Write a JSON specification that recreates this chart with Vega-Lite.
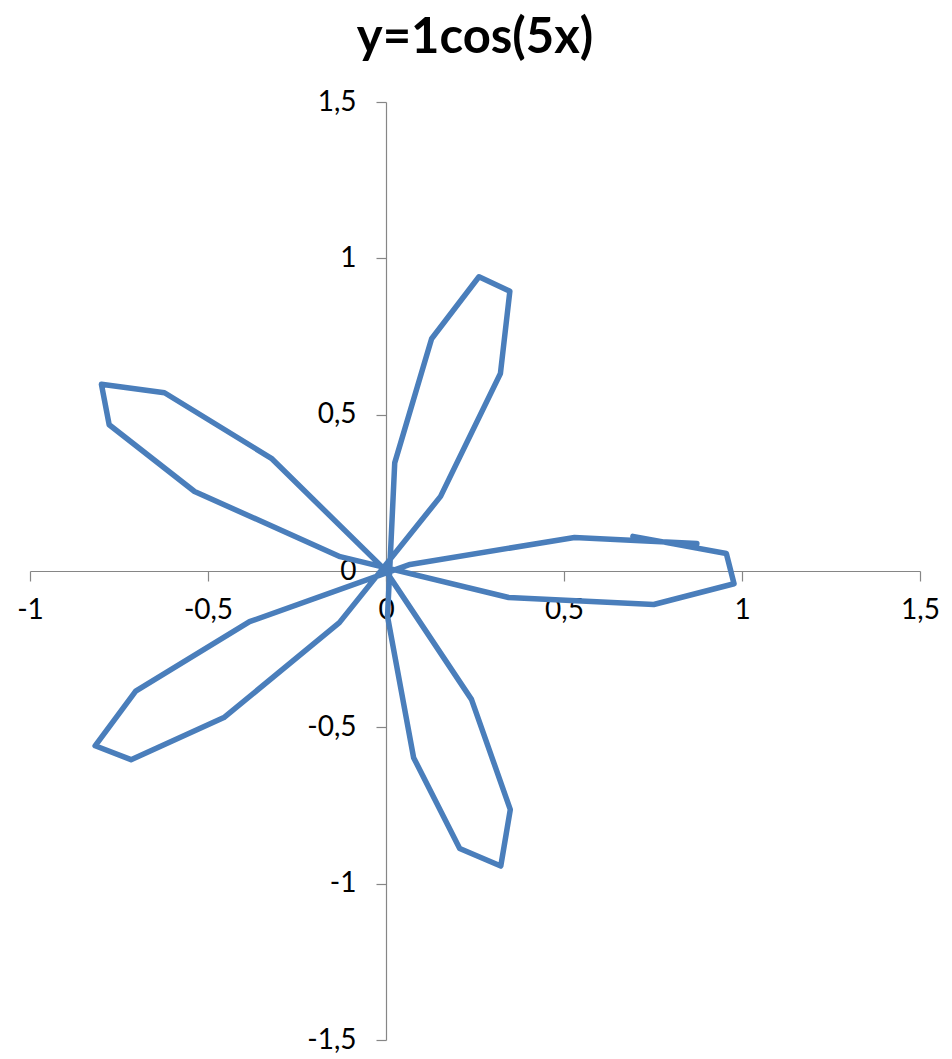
{
  "$schema": "https://vega.github.io/schema/vega-lite/v6.json",
  "width": 890,
  "height": 938,
  "autosize": {"type": "none"},
  "padding": {"left": 30, "top": 102, "right": 32, "bottom": 19},
  "background": "white",
  "title": {
    "text": "y=1cos(5x)",
    "font": "Lato",
    "fontSize": 49,
    "fontWeight": "bold",
    "color": "#000000",
    "anchor": "middle",
    "frame": "group",
    "baseline": "alphabetic",
    "offset": -14
  },
  "config": {
    "view": {"stroke": null},
    "axis": {
      "labelFont": "Lato",
      "labelFontSize": 28,
      "labelColor": "#000000",
      "domainColor": "#868686",
      "tickColor": "#868686",
      "domainWidth": 1.2,
      "tickWidth": 1.2,
      "tickSize": 10,
      "grid": false,
      "title": null,
      "labelFlush": false,
      "labelOverlap": false,
      "labelExpr": "replace(toString(datum.value), '.', ',')"
    }
  },
  "data": {
    "values": [
      {"t": 0.1, "x": 0.8732, "y": 0.0876},
      {"t": 0.2, "x": 0.5295, "y": 0.1073},
      {"t": 0.3, "x": 0.0676, "y": 0.0209},
      {"t": 0.4, "x": -0.3833, "y": -0.1621},
      {"t": 0.5, "x": -0.7031, "y": -0.3841},
      {"t": 0.6, "x": -0.8171, "y": -0.559},
      {"t": 0.7, "x": -0.7162, "y": -0.6033},
      {"t": 0.8, "x": -0.4554, "y": -0.4689},
      {"t": 0.9, "x": -0.131, "y": -0.1651},
      {"t": 1.0, "x": 0.1533, "y": 0.2387},
      {"t": 1.1, "x": 0.3214, "y": 0.6316},
      {"t": 1.2, "x": 0.3479, "y": 0.8949},
      {"t": 1.3, "x": 0.2612, "y": 0.941},
      {"t": 1.4, "x": 0.1281, "y": 0.7429},
      {"t": 1.5, "x": 0.0245, "y": 0.3458},
      {"t": 1.6, "x": 0.0043, "y": -0.1454},
      {"t": 1.7, "x": 0.0776, "y": -0.597},
      {"t": 1.8, "x": 0.207, "y": -0.8873},
      {"t": 1.9, "x": 0.3224, "y": -0.9436},
      {"t": 2.0, "x": 0.3492, "y": -0.763},
      {"t": 2.1, "x": 0.2401, "y": -0.4105},
      {"t": 2.2, "x": -0.0026, "y": 0.0036},
      {"t": 2.3, "x": -0.322, "y": 0.3604},
      {"t": 2.4, "x": -0.6222, "y": 0.57},
      {"t": 2.5, "x": -0.7994, "y": 0.5972},
      {"t": 2.6, "x": -0.7776, "y": 0.4678},
      {"t": 2.7, "x": -0.5378, "y": 0.2543},
      {"t": 2.8, "x": -0.1288, "y": 0.0458},
      {"t": 2.9, "x": 0.3446, "y": -0.0849},
      {"t": 3.0, "x": 0.7521, "y": -0.1072},
      {"t": 3.1, "x": 0.9776, "y": -0.0407},
      {"t": 3.2, "x": 0.956, "y": 0.0559},
      {"t": 3.3, "x": 0.6936, "y": 0.1108}
    ]
  },
  "mark": {
    "type": "line",
    "color": "#4A7EBB",
    "strokeWidth": 5.5,
    "strokeJoin": "round",
    "strokeCap": "round"
  },
  "encoding": {
    "order": {"field": "t", "type": "quantitative"},
    "x": {
      "field": "x",
      "type": "quantitative",
      "scale": {"domain": [-1, 1.5], "nice": false, "zero": false},
      "axis": {"values": [-1, -0.5, 0, 0.5, 1, 1.5], "offset": -469, "labelPadding": 15}
    },
    "y": {
      "field": "y",
      "type": "quantitative",
      "scale": {"domain": [-1.5, 1.5], "nice": false, "zero": false},
      "axis": {"values": [-1.5, -1, -0.5, 0, 0.5, 1, 1.5], "offset": -356, "labelPadding": 20}
    }
  }
}
